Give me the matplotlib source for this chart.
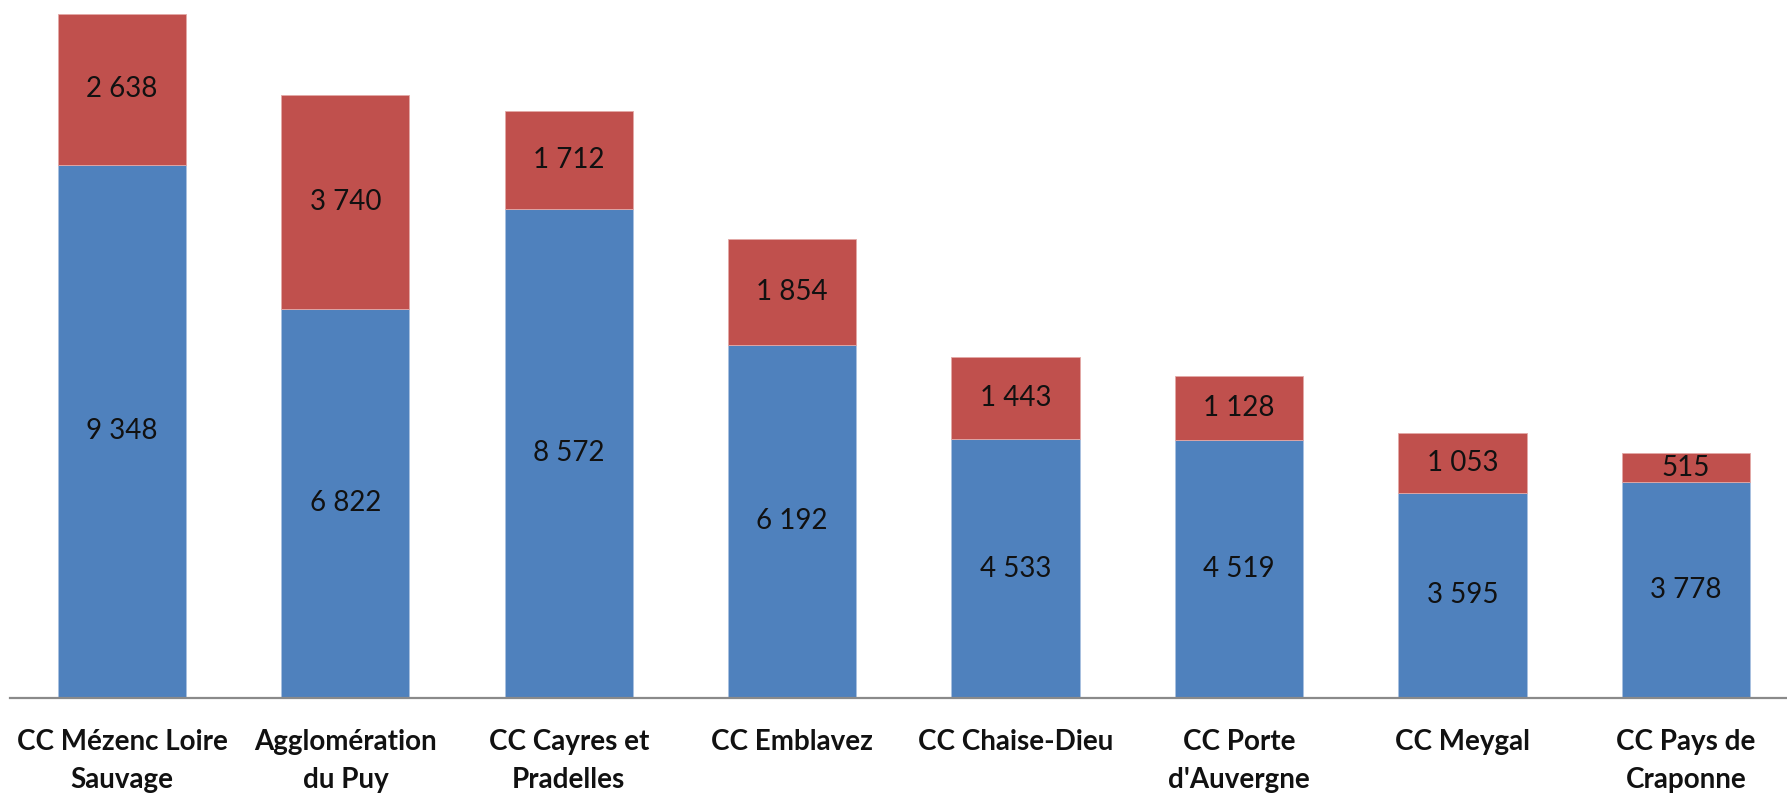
import matplotlib
matplotlib.use("Agg")
import matplotlib.pyplot as plt
import numpy as np

categories = ["CC Mézenc Loire\nSauvage", "Agglomération\ndu Puy", "CC Cayres et\nPradelles",
              "CC Emblavez", "CC Chaise-Dieu", "CC Porte\nd'Auvergne", "CC Meygal",
              "CC Pays de\nCraponne"]
blue_vals = [9348, 6822, 8572, 6192, 4533, 4519, 3595, 3778]
red_vals = [2638, 3740, 1712, 1854, 1443, 1128, 1053, 515]

BLUE = "#4F81BD"
RED = "#C0504D"

def fmt(v):
    return f"{v:,}".replace(",", " ")

fig = plt.figure(figsize=(17.87, 7.96), dpi=100)
ax = fig.add_axes([0.0, 0.1231, 1.0, 0.8603])

x = np.arange(len(categories))
w = 0.574
ax.bar(x, blue_vals, width=w, color=BLUE, edgecolor="#A9C1E0", linewidth=0.6)
ax.bar(x, red_vals, width=w, bottom=blue_vals, color=RED, edgecolor="#E3A9A7", linewidth=0.6)

for xi, b, r in zip(x, blue_vals, red_vals):
    ax.text(xi, b / 2, fmt(b), ha="center", va="center", fontsize=20,
            family="Lato", color="#111111")
    ax.text(xi, b + r / 2, fmt(r), ha="center", va="center", fontsize=20,
            family="Lato", color="#111111")

ax.set_xlim(-0.546, 7.453)
ax.set_ylim(0, 12000)
ax.set_yticks([])
ax.set_xticks(x)
ax.set_xticklabels(categories, fontsize=20, fontweight="bold", family="Lato",
                   linespacing=1.57, color="#111111")
ax.tick_params(axis="x", length=0, pad=22)
for s in ["top", "right", "left"]:
    ax.spines[s].set_visible(False)
ax.spines["bottom"].set_color("#8a8a8a")
ax.spines["bottom"].set_linewidth(1.6)
ax.spines["bottom"].set_bounds(-0.501, 7.453)

fig.savefig("out.png", dpi=100, facecolor="white")
